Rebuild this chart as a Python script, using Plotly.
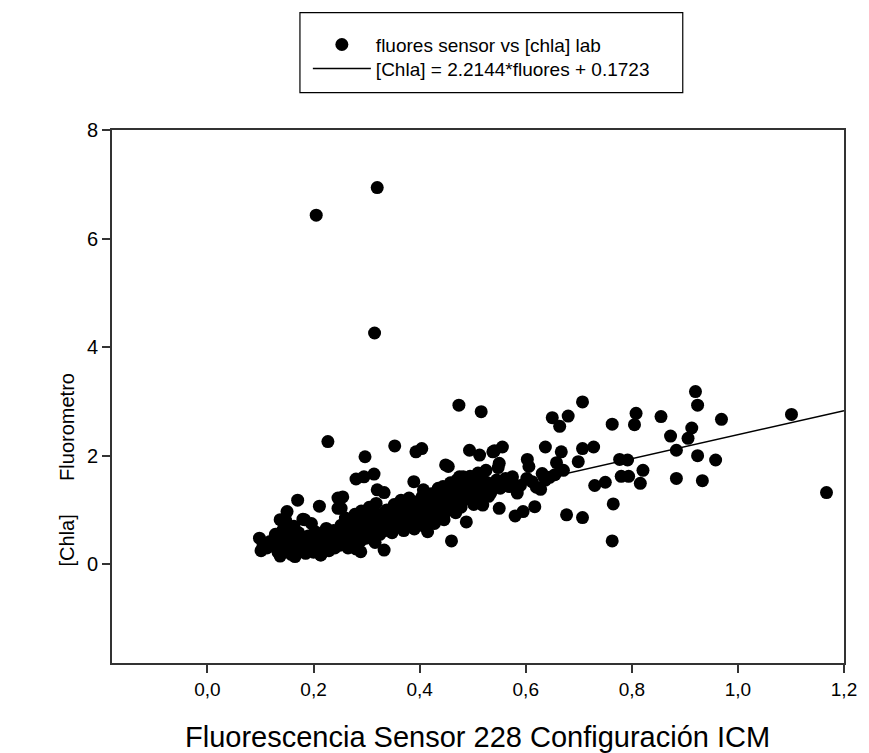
import plotly.graph_objects as go

# ---------------- data ----------------
fluores_x = [
    0.205, 0.320, 0.315, 0.227,
    0.474, 0.516, 0.650, 0.664, 0.680, 0.707, 0.763, 0.808, 0.805, 0.855, 0.920, 0.924,
    0.969, 1.101, 1.167, 0.873, 0.913, 0.906, 0.884, 0.924, 0.958, 0.884, 0.933, 0.777,
    0.792, 0.780, 0.794, 0.821, 0.816, 0.730, 0.750, 0.765, 0.763, 0.677, 0.707, 0.728,
    0.707, 0.699, 0.667, 0.658, 0.671, 0.637, 0.631, 0.628, 0.617, 0.595, 0.580, 0.603,
    0.606, 0.602, 0.575, 0.569, 0.550, 0.556, 0.538, 0.494, 0.513, 0.525, 0.550, 0.482,
    0.454, 0.469, 0.488, 0.460, 0.519, 0.584, 0.534, 0.500,
    0.353, 0.393, 0.404, 0.297, 0.449, 0.541,
    0.280, 0.295, 0.314, 0.389, 0.320, 0.333, 0.255, 0.252, 0.407, 0.444, 0.475, 0.562,
    0.575, 0.637, 0.333, 0.289,
    0.170, 0.211, 0.150, 0.137, 0.183, 0.098, 0.101, 0.137, 0.165, 0.214, 0.224, 0.246, 0.246,
    0.105, 0.112, 0.118, 0.125, 0.128, 0.133, 0.140, 0.142, 0.145, 0.148, 0.150, 0.155,
    0.158, 0.160, 0.163, 0.167, 0.172, 0.175, 0.178, 0.180, 0.185, 0.188, 0.190, 0.193,
    0.196, 0.198, 0.200,
    0.203, 0.205, 0.208, 0.213, 0.218, 0.220, 0.222, 0.224, 0.227, 0.229, 0.232, 0.235,
    0.238, 0.240, 0.242, 0.248, 0.250,
    0.252, 0.255, 0.258, 0.260, 0.262, 0.265, 0.268, 0.270, 0.272, 0.275, 0.278, 0.280,
    0.282, 0.285, 0.288, 0.290, 0.292, 0.295, 0.297, 0.299,
    0.300, 0.302, 0.305, 0.307, 0.310, 0.312, 0.314, 0.316, 0.318, 0.320, 0.322, 0.325,
    0.328, 0.330, 0.335, 0.338, 0.340, 0.342, 0.345, 0.348, 0.350,
    0.352, 0.355, 0.357, 0.360, 0.362, 0.365, 0.368, 0.370, 0.372, 0.375, 0.378, 0.380,
    0.382, 0.385, 0.388, 0.390, 0.392, 0.395, 0.398, 0.400,
    0.402, 0.405, 0.408, 0.410, 0.412, 0.415, 0.418, 0.420, 0.422, 0.425, 0.428, 0.430,
    0.433, 0.435, 0.438, 0.440, 0.442, 0.446, 0.448, 0.450,
    0.452, 0.455, 0.458, 0.462, 0.465, 0.468, 0.470, 0.472, 0.478, 0.480, 0.485, 0.490,
    0.492, 0.495, 0.498,
    0.502, 0.505, 0.508, 0.510, 0.513, 0.515, 0.518, 0.522, 0.528, 0.530, 0.540, 0.545,
    0.548, 0.552, 0.590, 0.612, 0.620, 0.645, 0.655,
]
chla_y = [
    6.43, 6.94, 4.26, 2.26,
    2.93, 2.81, 2.70, 2.54, 2.73, 2.99, 2.58, 2.78, 2.57, 2.72, 3.18, 2.93,
    2.67, 2.76, 1.32, 2.36, 2.51, 2.32, 2.10, 2.00, 1.92, 1.58, 1.54, 1.93,
    1.92, 1.62, 1.62, 1.73, 1.49, 1.45, 1.51, 1.11, 0.43, 0.91, 0.86, 2.16,
    2.13, 1.89, 2.07, 1.87, 1.73, 2.16, 1.67, 1.38, 1.06, 0.97, 0.89, 1.93,
    1.80, 1.58, 1.61, 1.43, 1.03, 2.16, 2.07, 2.10, 2.01, 1.73, 1.86, 1.61,
    1.80, 1.24, 0.78, 0.43, 1.09, 1.31, 1.31, 1.37,
    2.18, 2.07, 2.13, 1.98, 1.83, 2.09,
    1.57, 1.61, 1.66, 1.52, 1.37, 1.32, 1.24, 1.03, 1.37, 1.43, 1.61, 1.58,
    1.49, 1.55, 0.26, 0.23,
    1.18, 1.07, 0.97, 0.82, 0.82, 0.48, 0.25, 0.15, 0.14, 0.17, 0.66, 1.22, 1.03,
    0.35, 0.30, 0.42, 0.38, 0.55, 0.22, 0.47, 0.63, 0.33, 0.80, 0.26, 0.55,
    0.18, 0.40, 0.70, 0.32, 0.58, 0.25, 0.45, 0.83, 0.20, 0.38, 0.52, 0.30,
    0.75, 0.45, 0.22,
    0.60, 0.35, 0.48, 0.17, 0.40, 0.55, 0.28, 0.32, 0.45, 0.25, 0.50, 0.38,
    0.62, 0.30, 0.44, 0.55, 0.35,
    0.72, 0.48, 0.40, 0.85, 0.58, 0.30, 0.65, 0.45, 0.78, 0.52, 0.92, 0.28,
    0.60, 0.70, 0.42, 0.98, 0.55, 0.80, 0.65, 0.48,
    0.88, 0.72, 1.05, 0.60, 0.50, 0.95, 0.78, 0.40, 1.12, 0.68, 0.85, 0.55,
    0.92, 0.75, 0.62, 1.00, 0.82, 0.70, 0.95, 0.58, 0.78,
    1.10, 0.88, 0.68, 0.98, 0.75, 1.18, 0.85, 0.62, 1.05, 0.90, 0.72, 1.22,
    0.95, 0.80, 1.08, 0.65, 0.88, 1.15, 0.75, 1.00,
    0.85, 1.25, 0.70, 1.05, 0.92, 0.60, 1.12, 0.80, 1.30, 0.98, 0.75, 1.18,
    0.88, 1.40, 1.05, 0.95, 1.25, 0.82, 1.10, 1.32,
    0.98, 1.20, 1.50, 1.08, 1.35, 0.95, 1.55, 1.22, 1.05, 1.40, 1.30, 1.48,
    1.20, 1.62, 1.35,
    1.10, 1.52, 1.28, 1.68, 1.42, 1.18, 1.58, 1.35, 1.50, 1.25, 1.45, 1.55,
    1.78, 1.40, 1.45, 1.52, 1.42, 1.60, 1.65,
]

fit_slope = 2.2144
fit_intercept = 0.1723
fit_x_end = 1.2

x_ticks = [0.0, 0.2, 0.4, 0.6, 0.8, 1.0, 1.2]
y_ticks = [0, 2, 4, 6, 8]

FONT = "Liberation Sans, Arial, sans-serif"

fit_x = [min(fluores_x), fit_x_end]
fit_y = [fit_slope * v + fit_intercept for v in fit_x]

fig = go.Figure()
fig.add_trace(go.Scatter(
    x=fluores_x, y=chla_y, mode="markers",
    name="fluores sensor vs [chla] lab",
    marker=dict(color="black", size=13, line=dict(width=0)),
    legend="legend",
))
fig.add_trace(go.Scatter(
    x=fit_x, y=fit_y, mode="lines",
    name="[Chla] = 2.2144*fluores + 0.1723",
    line=dict(color="black", width=1.5),
    legend="legend2",
))

W, H = 869, 753
L, R, T, B = 112, 17, 129.5, 89.7
pw, ph = W - L - R, H - T - B

def px_to_paper_x(px):
    return (px - L) / pw

def px_to_paper_y(py):
    return 1 - (py - T) / ph

legend_common = dict(
    font=dict(family=FONT, size=19, color="black"),
    bgcolor="rgba(0,0,0,0)", borderwidth=0,
    xanchor="left", yanchor="middle", itemwidth=58,
)

fig.update_layout(
    width=W, height=H,
    margin=dict(l=L, r=R, t=T, b=B),
    paper_bgcolor="white", plot_bgcolor="white",
    separators=",.",
    font=dict(family=FONT, size=19, color="black"),
    showlegend=True,
    legend=dict(x=px_to_paper_x(310), y=px_to_paper_y(44), **legend_common),
    legend2=dict(x=px_to_paper_x(310), y=px_to_paper_y(68), **legend_common),
    xaxis=dict(
        range=[-0.18, 1.2], tickvals=x_ticks, tickformat=".1f",
        ticks="outside", ticklen=8, tickwidth=1.5, tickcolor="#333",
        showline=True, linecolor="#333", linewidth=2, mirror=True,
        showgrid=False, zeroline=False,
        tickfont=dict(family=FONT, size=19, color="black"),
    ),
    yaxis=dict(
        range=[-1.82, 8], tickvals=y_ticks,
        ticks="outside", ticklen=8, tickwidth=1.5, tickcolor="#333",
        showline=True, linecolor="#333", linewidth=2, mirror=True,
        showgrid=False, zeroline=False,
        tickfont=dict(family=FONT, size=20, color="black"),
    ),
    shapes=[dict(
        type="rect", xref="paper", yref="paper",
        x0=px_to_paper_x(302), x1=px_to_paper_x(689),
        y0=px_to_paper_y(92), y1=px_to_paper_y(12),
        line=dict(color="black", width=1.2), fillcolor="rgba(0,0,0,0)",
    )],
    annotations=[
        dict(text="Fluorescencia Sensor 228 Configuración ICM",
             xref="paper", yref="paper", x=px_to_paper_x(481), y=px_to_paper_y(737),
             xanchor="center", yanchor="middle", showarrow=False,
             font=dict(family=FONT, size=29, color="black")),
        dict(text="[Chla]" + "\u00a0" * 6 + "Fluorometro",
             xref="paper", yref="paper", x=px_to_paper_x(67), y=px_to_paper_y(470),
             xanchor="center", yanchor="middle", textangle=-90, showarrow=False,
             font=dict(family=FONT, size=20, color="black")),
    ],
)

fig.write_html("out.html")
